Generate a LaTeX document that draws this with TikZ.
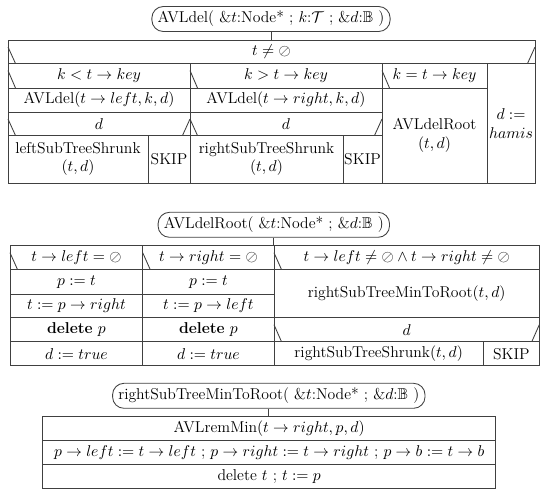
\documentclass[tikz,border=0pt]{standalone}
\usepackage{amssymb}
\colorlet{box edge}{black!75}
\tikzset{
  header/.style={draw=box edge, semithick, rounded corners=8pt, minimum height=17.5pt, inner xsep=4pt, inner ysep=0pt, font=\fontsize{11}{13}\selectfont},
  frame/.style={draw=box edge, semithick}
  }
\tikzstyle{edge} = [draw=box edge, semithick, -]
\tikzstyle{cell} = [align=center, inner sep=0pt, font=\fontsize{11}{13}\selectfont]

\begin{document}
\begin{tikzpicture}[x=0.7pt,y=-0.7pt]
\useasboundingbox (0,0) rectangle (550,494);

% AVLdel
\node[header] (del) at (271,19) {AVLdel( \&$t$:Node* ; $k$:$\mathcal{T}$ ; \&$d$:$\mathbb{B}$ )};
\coordinate (del top) at (271,40);
\draw[edge] (del) -- (del top);
\draw[frame] (8,40) rectangle (535,183);
\draw[edge] (8,63.5) -- (535,63.5) (8,88) -- (487,88) (8,112) -- (382,112) (8,135.5) -- (382,135.5);
\foreach \x/\ya/\yb in {190/63.5/183, 382/63.5/183, 487/63.5/183, 148/135.5/183, 343/135.5/183}
  \draw[edge] (\x,\ya) -- (\x,\yb);
\foreach \x/\ya/\yb in {8/40/63.5, 8/63.5/88, 190/63.5/88, 382/63.5/88, 8/112/135.5, 190/112/135.5}
  \draw[edge] (\x,\ya+7) -- (\x+7.5,\yb);
\foreach \x/\ya/\yb in {535/40/63.5, 190/112/135.5, 382/112/135.5}
  \draw[edge] (\x,\ya+7) -- (\x-7.5,\yb);
\foreach \pos/\name/\txt in {(271.5,52)/del cond/{$t\neq{\oslash}$},
    (99,76)/del lt/{$k<t\to key$}, (286,76)/del gt/{$k>t\to key$}, (434.5,76)/del eq/{$k=t\to key$},
    (99,100)/del left/{AVLdel$(t\to left,k,d)$}, (286,100)/del right/{AVLdel$(t\to right,k,d)$},
    (434.5,135.5)/del root/{AVLdelRoot\\$(t,d)$}, (511,123.5)/del else/{$d:=$\\$hamis$},
    (99,124)/del d1/{$d$}, (286,124)/del d2/{$d$},
    (78,159)/del shl/{leftSubTreeShrunk\\$(t,d)$}, (169,159)/del skl/{SKIP},
    (266.5,159)/del shr/{rightSubTreeShrunk\\$(t,d)$}, (362.5,159)/del skr/{SKIP}} {
  \node[cell] (\name) at \pos {\txt};
}

% AVLdelRoot
\node[header] (root) at (273.8,224.8) {AVLdelRoot( \&$t$:Node* ; \&$d$:$\mathbb{B}$ )};
\coordinate (root top) at (273.8,245.7);
\draw[edge] (root) -- (root top);
\draw[frame] (10,245.7) rectangle (539.3,365.7);
\draw[edge] (10,269.5) -- (539.3,269.5) (10,294) -- (274,294) (10,317.7) -- (539.3,317.7) (10,341.7) -- (539.3,341.7);
\foreach \x/\ya/\yb in {142.7/245.7/365.7, 274/245.7/365.7, 483.3/341.7/365.7}
  \draw[edge] (\x,\ya) -- (\x,\yb);
\foreach \x/\ya/\yb in {10/245.7/269.5, 142.7/245.7/269.5, 274/245.7/269.5, 274/317.7/341.7}
  \draw[edge] (\x,\ya+7) -- (\x+7.5,\yb);
\draw[edge] (539.3,324.7) -- (531.8,341.7);
\foreach \pos/\name/\txt in {(76.4,257.6)/root c1/{$t\to left={\oslash}$}, (208.4,257.6)/root c2/{$t\to right={\oslash}$},
    (406.7,257.6)/root c3/{$t\to left\neq{\oslash}\wedge t\to right\neq{\oslash}$},
    (76.4,281.8)/root p1/{$p:=t$}, (208.4,281.8)/root p2/{$p:=t$},
    (76.4,305.9)/root t1/{$t:=p\to right$}, (208.4,305.9)/root t2/{$t:=p\to left$},
    (76.4,329.7)/root del1/{\textbf{delete} $p$}, (208.4,329.7)/root del2/{\textbf{delete} $p$},
    (76.4,353.7)/root d1/{$d:=true$}, (208.4,353.7)/root d2/{$d:=true$},
    (406.7,293.6)/root min/{rightSubTreeMinToRoot$(t,d)$}, (406.7,329.7)/root d3/{$d$},
    (378.7,353.7)/root shr/{rightSubTreeShrunk$(t,d)$}, (511.3,353.7)/root skip/{SKIP}} {
  \node[cell] (\name) at \pos {\txt};
}

% rightSubTreeMinToRoot
\node[header] (min) at (268.8,395.8) {rightSubTreeMinToRoot( \&$t$:Node* ; \&$d$:$\mathbb{B}$ )};
\coordinate (min top) at (268.8,416.7);
\draw[edge] (min) -- (min top);
\draw[frame] (42.7,416.7) rectangle (495.7,488.3);
\draw[edge] (42.7,440.7) -- (495.7,440.7) (42.7,464.3) -- (495.7,464.3);
\foreach \pos/\name/\txt in {(269.2,428.7)/min rem/{AVLremMin$(t\to right,p,d)$},
    (269.2,452.5)/min link/{$p\to left:=t\to left$ ; $p\to right:=t\to right$ ; $p\to b:=t\to b$},
    (269.2,476.3)/min del/{delete $t$ ; $t:=p$}} {
  \node[cell] (\name) at \pos {\txt};
}

\end{tikzpicture}
\end{document}
